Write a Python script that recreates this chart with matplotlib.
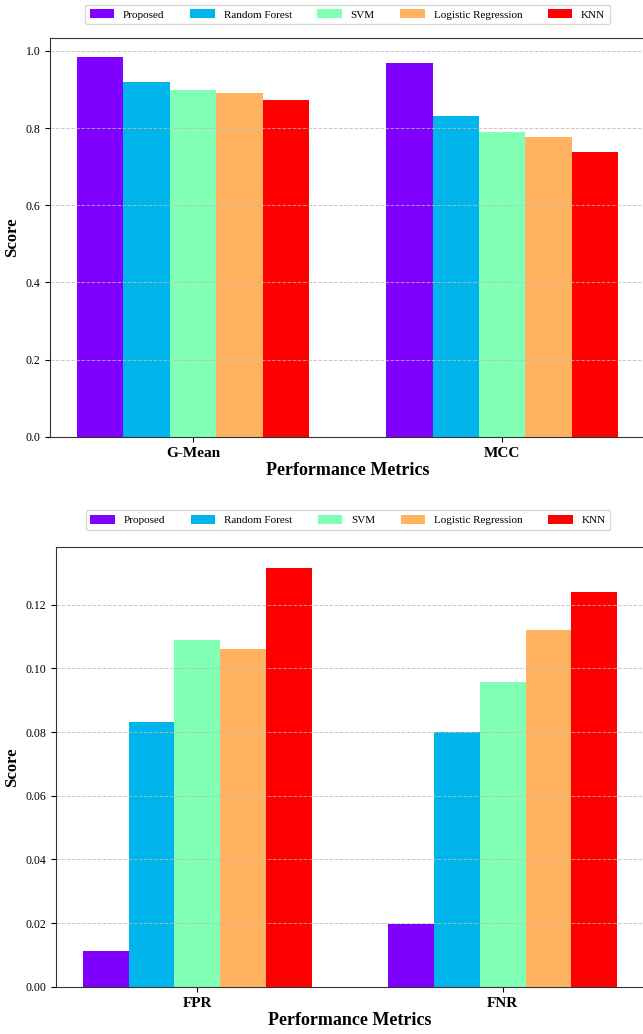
import numpy as np
import matplotlib
matplotlib.use('Agg')
import matplotlib.pyplot as plt

plt.rcParams['font.family'] = ['Liberation Serif', 'DejaVu Serif']

# models and metrics
models = ['Proposed', 'Random Forest', 'SVM', 'Logistic Regression', 'KNN']
metrics_top = ['G-Mean', 'MCC']
metrics_bottom = ['FPR', 'FNR']

# scores, one list per model: [metric 1, metric 2]
proposed_top = [0.984, 0.968]
rf_top = [0.919, 0.832]
svm_top = [0.898, 0.789]
lr_top = [0.891, 0.778]
knn_top = [0.872, 0.739]

proposed_bottom = [0.0114, 0.0199]
rf_bottom = [0.0832, 0.0800]
svm_bottom = [0.1088, 0.0958]
lr_bottom = [0.1060, 0.1120]
knn_bottom = [0.1315, 0.1238]

colors = plt.cm.rainbow(np.linspace(0, 1, len(models)))
width = 0.15

fig = plt.figure(figsize=(6.43, 10.34), dpi=100)
ax1 = fig.add_axes([0.0778, 0.5774, 0.9254, 0.3859])
ax2 = fig.add_axes([0.0871, 0.0455, 0.9145, 0.4255])


def draw(ax, metrics, series, anchor_x, anchor_y):
    x = np.arange(len(metrics))
    for i, (vals, name) in enumerate(zip(series, models)):
        ax.bar(x + (i - 2) * width, vals, width, color=colors[i], label=name)
    ax.set_xticks(x)
    ax.set_xticklabels(metrics, fontsize=11, fontweight='bold')
    ax.tick_params(axis='y', labelsize=8.5)
    ax.set_xlabel('Performance Metrics', fontsize=13, fontweight='bold', labelpad=2)
    ax.set_ylabel('Score', fontsize=12, fontweight='bold')
    ax.grid(axis='y', linestyle='--', color='#bbbbbb', linewidth=0.7, alpha=0.8)
    for s in ax.spines.values():
        s.set_color('#333333')
    ax.legend(loc='lower center', bbox_to_anchor=(anchor_x, anchor_y), ncol=5,
              fontsize=8, frameon=True, edgecolor='#cccccc', fancybox=True,
              handlelength=2.2, handleheight=0.9, columnspacing=2.3, borderaxespad=0)


draw(ax1, metrics_top, [proposed_top, rf_top, svm_top, lr_top, knn_top], 0.5, 1.035)
draw(ax2, metrics_bottom, [proposed_bottom, rf_bottom, svm_bottom, lr_bottom, knn_bottom], 0.497, 1.039)

fig.savefig('out.png', dpi=100)
